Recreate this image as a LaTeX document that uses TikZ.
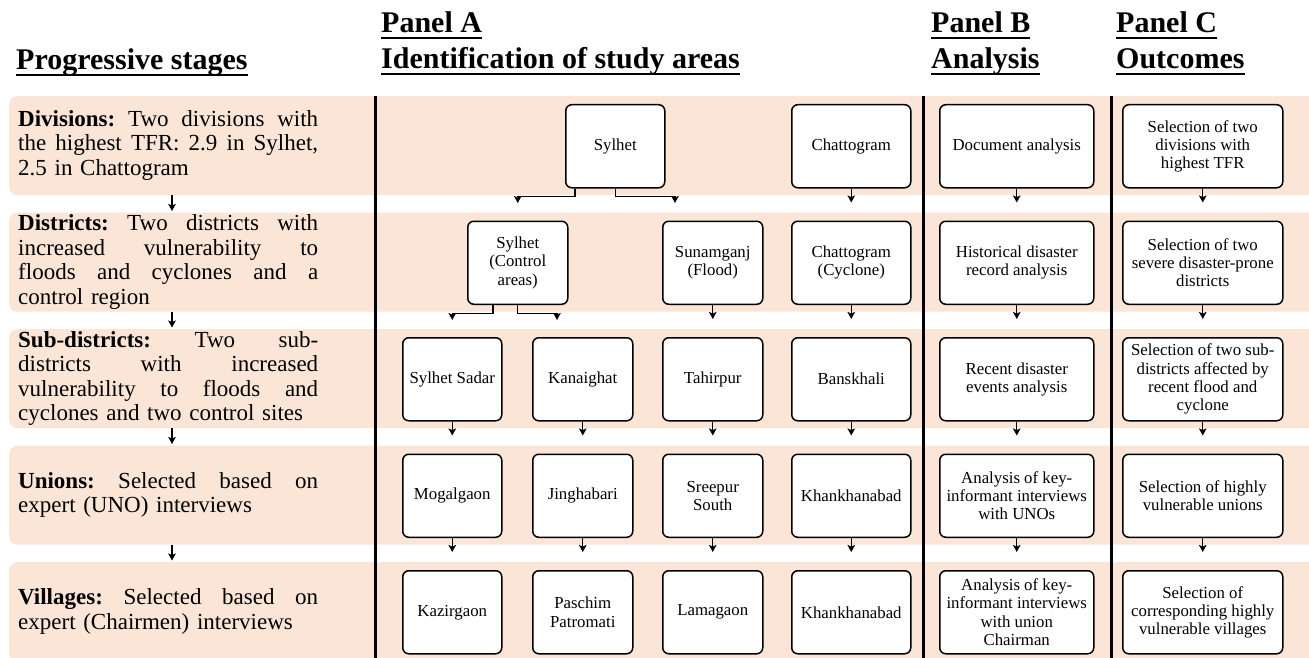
\documentclass[tikz,border=0pt]{standalone}
\usepackage{fontspec}
\setmainfont{Liberation Serif}
\usetikzlibrary{arrows.meta}
\definecolor{stagepink}{HTML}{FBE5D6}
\newlength{\stagew}\setlength{\stagew}{300pt}
\newcommand{\jline}[1]{\leavevmode\hbox to\stagew{\spaceskip=0.25em plus 1fil\xspaceskip=\spaceskip #1}\\}
\newcommand{\headul}[1]{\setbox0=\hbox{#1}\rlap{\rule[-6.5pt]{\wd0}{2pt}}\box0}
\tikzset{
  stageband/.style={fill=stagepink, rounded corners=8pt, minimum width=1330pt,
    minimum height=99pt, anchor=north west, inner sep=0pt},
  stagetext/.style={anchor=west, text width=\stagew, align=left, inner sep=0pt,
    font=\fontsize{23}{24.5}\selectfont},
  headtext/.style={anchor=base west, inner sep=0pt,
    font=\fontsize{30}{36}\selectfont\bfseries},
  areabox/.style={draw, line width=1.5pt, rounded corners=6pt, fill=white,
    align=center, anchor=north west, minimum height=83pt, inner sep=2pt,
    font=\fontsize{16.8}{18.3}\selectfont},
  arr/.style={line width=1.4pt, -{Stealth[length=7pt,width=7.5pt,inset=1.5pt]}},
  panelline/.style={line width=3pt}
}
\begin{document}
\begin{tikzpicture}[x=1pt,y=-1pt]
  \useasboundingbox (0,0) rectangle (1309,658);
  \clip (0,0) rectangle (1309,658);
  % pink bands, one per stage
  \foreach \r in {1,...,5}
    \node[stageband] (band\r) at (9,{96+116.5*(\r-1)}) {};
  % panel separators
  \foreach \x in {375,923,1111}
    \draw[panelline] (\x,96) -- (\x,658);
  % headings
  \node[headtext] (hstage) at (16,70) {\headul{Progressive stages}};
  \node[headtext] (hA1) at (381,33) {\headul{Panel A}};
  \node[headtext] (hA2) at (381,69) {\headul{Identification of study areas}};
  \node[headtext] (hB1) at (931,33) {\headul{Panel B}};
  \node[headtext] (hB2) at (931,69) {\headul{Analysis}};
  \node[headtext] (hC1) at (1116,33) {\headul{Panel C}};
  \node[headtext] (hC2) at (1116,69) {\headul{Outcomes}};
  % progressive stages
  \node[stagetext] (st1) at (18,145.5) {\jline{\textbf{Divisions:} Two divisions with}\jline{the highest TFR: 2.9 in Sylhet,}2.5 in Chattogram};
  \node[stagetext] (st2) at (18,262) {\jline{\textbf{Districts:} Two districts with}\jline{increased vulnerability to}\jline{floods and cyclones and a}control region};
  \node[stagetext] (st3) at (18,378.5) {\jline{\textbf{Sub-districts:} Two sub-}\jline{districts with increased}\jline{vulnerability to floods and}cyclones and two control sites};
  \node[stagetext] (st4) at (18,495) {\jline{\textbf{Unions:} Selected based on}expert (UNO) interviews};
  \node[stagetext] (st5) at (18,611.5) {\jline{\textbf{Villages:} Selected based on}expert (Chairmen) interviews};
  \coordinate (sx) at (172,0);
  \foreach \a/\b in {1/2,2/3,3/4,4/5}
    \draw[arr, shorten >=1.5pt] (band\a.south -| sx) -- (band\b.north -| sx);
  % panel A: divisions
  \node[areabox, minimum width=99pt] (div1) at (565,104) {Sylhet};
  \node[areabox, minimum width=119pt] (div2) at (791,104) {Chattogram};
  % panel A: districts
  \node[areabox, minimum width=100pt] (dist1) at (467,220.5) {Sylhet\\(Control\\areas)};
  \node[areabox, minimum width=100pt] (dist2) at (662,220.5) {Sunamganj\\(Flood)};
  \node[areabox, minimum width=119pt] (dist3) at (791,220.5) {Chattogram\\(Cyclone)};
  % panel A: sub-districts
  \node[areabox, minimum width=99pt] (sub1) at (402,337) {Sylhet Sadar};
  \node[areabox, minimum width=100pt] (sub2) at (532,337) {Kanaighat};
  \node[areabox, minimum width=100pt] (sub3) at (662,337) {Tahirpur};
  \node[areabox, minimum width=119pt] (sub4) at (791,337) {Banskhali};
  % panel A: unions
  \node[areabox, minimum width=99pt] (uni1) at (402,453.5) {Mogalgaon};
  \node[areabox, minimum width=100pt] (uni2) at (532,453.5) {Jinghabari};
  \node[areabox, minimum width=100pt] (uni3) at (662,453.5) {Sreepur\\South};
  \node[areabox, minimum width=119pt] (uni4) at (791,453.5) {Khankhanabad};
  % panel A: villages
  \node[areabox, minimum width=99pt] (vil1) at (402,570) {Kazirgaon};
  \node[areabox, minimum width=100pt] (vil2) at (532,570) {Paschim\\Patromati};
  \node[areabox, minimum width=100pt] (vil3) at (662,570) {Lamagaon};
  \node[areabox, minimum width=119pt] (vil4) at (791,570) {Khankhanabad};
  % panel B
  \node[areabox, minimum width=154pt] (anl1) at (939,104) {Document analysis};
  \node[areabox, minimum width=154pt] (anl2) at (939,220.5) {Historical disaster\\record analysis};
  \node[areabox, minimum width=154pt] (anl3) at (939,337) {Recent disaster\\events analysis};
  \node[areabox, minimum width=154pt] (anl4) at (939,453.5) {Analysis of key-\\informant interviews\\with UNOs};
  \node[areabox, minimum width=154pt] (anl5) at (939,570) {Analysis of key-\\informant interviews\\with union\\Chairman};
  % panel C
  \node[areabox, minimum width=160pt] (out1) at (1122,104) {Selection of two\\divisions with\\highest TFR};
  \node[areabox, minimum width=160pt] (out2) at (1122,220.5) {Selection of two\\severe disaster-prone\\districts};
  \node[areabox, minimum width=160pt] (out3) at (1122,337) {Selection of two sub-\\districts affected by\\recent flood and\\cyclone};
  \node[areabox, minimum width=160pt] (out4) at (1122,453.5) {Selection of highly\\vulnerable unions};
  \node[areabox, minimum width=160pt] (out5) at (1122,570) {Selection of\\corresponding highly\\vulnerable villages};
  % branches
  \draw[arr] ([xshift=10pt]div1.south west) -- ++(0,8) -| ([yshift=17.5pt]dist1.north);
  \draw[arr] (div1.south) -- ++(0,8) -| ([xshift=13pt,yshift=17.5pt]dist2.north west);
  \draw[arr] ([xshift=26pt]dist1.south west) -- ++(0,8.5) -| ([yshift=17pt]sub1.north);
  \draw[arr] (dist1.south) -- ++(0,8.5) -| ([xshift=25pt,yshift=17pt]sub2.north west);
  % straight arrows
  \foreach \a/\b in {div2/dist3,anl1/anl2,out1/out2,
      dist2/sub3,dist3/sub4,anl2/anl3,out2/out3,
      sub1/uni1,sub2/uni2,sub3/uni3,sub4/uni4,anl3/anl4,out3/out4,
      uni1/vil1,uni2/vil2,uni3/vil3,uni4/vil4,anl4/anl5,out4/out5}
    \draw[arr] (\a.south) -- ([yshift=18pt]\b.north);
\end{tikzpicture}
\end{document}
